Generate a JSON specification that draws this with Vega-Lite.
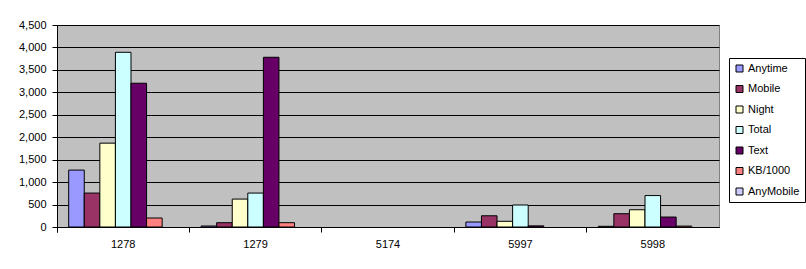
{
  "$schema": "https://vega.github.io/schema/vega-lite/v6.json",
  "autosize": {"type": "none"},
  "width": 662,
  "height": 202,
  "padding": {"left": 57, "top": 25, "right": 87, "bottom": 42},
  "background": "white",
  "config": {
    "font": "Liberation Sans",
    "view": {"fill": "#C0C0C0", "stroke": "#808080", "strokeWidth": 1}
  },
  "data": {
    "values": [
      {"id": "1278", "series": "Anytime", "value": 1268},
      {"id": "1278", "series": "Mobile", "value": 756},
      {"id": "1278", "series": "Night", "value": 1868},
      {"id": "1278", "series": "Total", "value": 3892},
      {"id": "1278", "series": "Text", "value": 3203},
      {"id": "1278", "series": "KB/1000", "value": 200},
      {"id": "1278", "series": "AnyMobile", "value": 0},
      {"id": "1279", "series": "Anytime", "value": 22},
      {"id": "1279", "series": "Mobile", "value": 96},
      {"id": "1279", "series": "Night", "value": 622},
      {"id": "1279", "series": "Total", "value": 756},
      {"id": "1279", "series": "Text", "value": 3781},
      {"id": "1279", "series": "KB/1000", "value": 96},
      {"id": "1279", "series": "AnyMobile", "value": 0},
      {"id": "5174", "series": "Anytime", "value": 0},
      {"id": "5174", "series": "Mobile", "value": 0},
      {"id": "5174", "series": "Night", "value": 0},
      {"id": "5174", "series": "Total", "value": 0},
      {"id": "5174", "series": "Text", "value": 0},
      {"id": "5174", "series": "KB/1000", "value": 0},
      {"id": "5174", "series": "AnyMobile", "value": 0},
      {"id": "5997", "series": "Anytime", "value": 111},
      {"id": "5997", "series": "Mobile", "value": 250},
      {"id": "5997", "series": "Night", "value": 127},
      {"id": "5997", "series": "Total", "value": 490},
      {"id": "5997", "series": "Text", "value": 25},
      {"id": "5997", "series": "KB/1000", "value": 0},
      {"id": "5997", "series": "AnyMobile", "value": 0},
      {"id": "5998", "series": "Anytime", "value": 15},
      {"id": "5998", "series": "Mobile", "value": 296},
      {"id": "5998", "series": "Night", "value": 384},
      {"id": "5998", "series": "Total", "value": 700},
      {"id": "5998", "series": "Text", "value": 222},
      {"id": "5998", "series": "KB/1000", "value": 20},
      {"id": "5998", "series": "AnyMobile", "value": 0}
    ]
  },
  "transform": [{"filter": "datum.value > 0"}],
  "mark": {"type": "bar", "stroke": "black", "strokeWidth": 1},
  "encoding": {
    "x": {
      "field": "id",
      "type": "nominal",
      "scale": {"domain": ["1278", "1279", "5174", "5997", "5998"], "paddingInner": 0, "paddingOuter": 0},
      "axis": {
        "title": null,
        "labelAngle": 0,
        "labelFont": "Liberation Sans",
        "labelFontSize": 11,
        "labelColor": "black",
        "labelPadding": 6,
        "bandPosition": 0,
        "tickExtra": true,
        "tickSize": 5,
        "tickColor": "black",
        "domainColor": "black",
        "grid": false
      }
    },
    "xOffset": {
      "field": "series",
      "type": "nominal",
      "scale": {
        "domain": ["Anytime", "Mobile", "Night", "Total", "Text", "KB/1000", "AnyMobile"],
        "paddingInner": 0,
        "paddingOuter": 0.75
      }
    },
    "y": {
      "field": "value",
      "type": "quantitative",
      "scale": {"domain": [0, 4500], "nice": false},
      "axis": {
        "title": null,
        "values": [0, 500, 1000, 1500, 2000, 2500, 3000, 3500, 4000, 4500],
        "format": ",d",
        "labelFont": "Liberation Sans",
        "labelFontSize": 11,
        "labelColor": "black",
        "labelPadding": 6,
        "tickSize": 5,
        "tickColor": "black",
        "domainColor": "black",
        "grid": true,
        "gridColor": "black",
        "gridOpacity": 1,
        "gridWidth": 1
      }
    },
    "color": {
      "field": "series",
      "type": "nominal",
      "scale": {
        "domain": ["Anytime", "Mobile", "Night", "Total", "Text", "KB/1000", "AnyMobile"],
        "range": ["#9999FF", "#993366", "#FFFFCC", "#CCFFFF", "#660066", "#FF8080", "#CCCCFF"]
      },
      "legend": {
        "title": null,
        "orient": "none",
        "legendX": 672,
        "legendY": 33,
        "fillColor": "white",
        "strokeColor": "black",
        "padding": 5,
        "cornerRadius": 0,
        "symbolType": "square",
        "symbolSize": 49,
        "symbolStrokeColor": "black",
        "symbolStrokeWidth": 1,
        "symbolOpacity": 1,
        "labelFont": "Liberation Sans",
        "labelFontSize": 11,
        "labelColor": "black",
        "labelOffset": 3,
        "rowPadding": 8.5
      }
    }
  }
}
